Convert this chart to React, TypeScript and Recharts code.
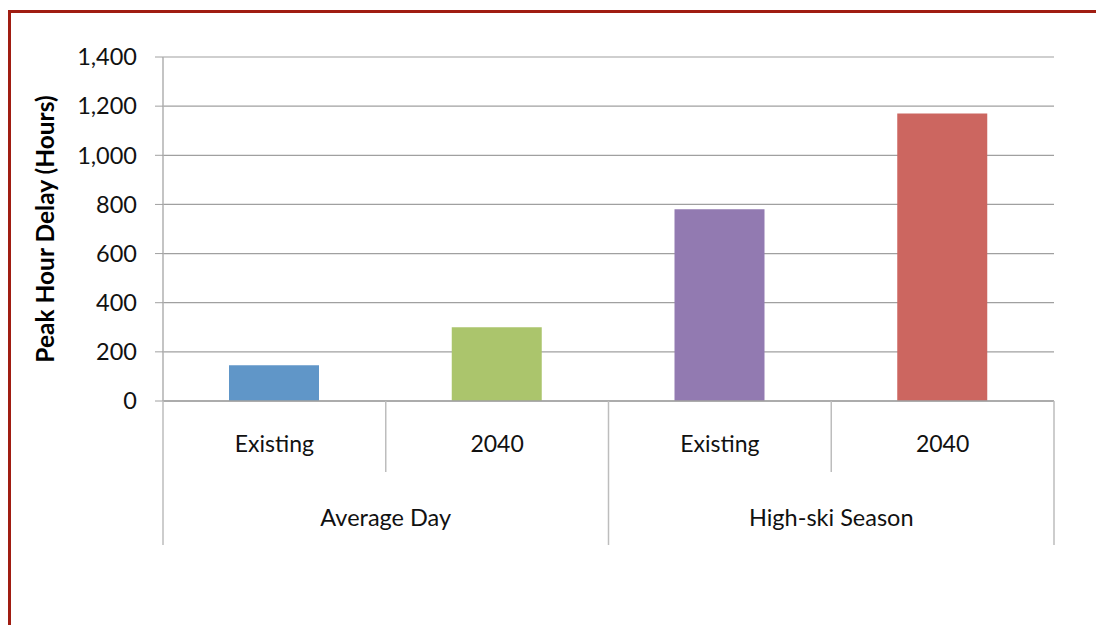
import React from 'react'
import { BarChart, Bar, Cell, XAxis, YAxis, CartesianGrid, Label } from 'recharts'

const ids = ['avg-existing', 'avg-2040', 'ski-existing', 'ski-2040']
const scenarios = ['Existing', '2040', 'Existing', '2040']
const groups = ['Average Day', 'Average Day', 'High-ski Season', 'High-ski Season']
const delays = [145, 300, 780, 1170]
const barColors = ['#6096c8', '#abc56c', '#927ab1', '#cc6660']
const yTicks = [0, 200, 400, 600, 800, 1000, 1200, 1400]

const data = ids.map((id, i) => ({
  id,
  scenario: scenarios[i],
  group: groups[i],
  delay: delays[i],
}))

const FONT = 'Lato, "Open Sans", sans-serif'
const SEP = '#bdbdbd'

function ScenarioTick(props: any) {
  const { x, y, payload, index } = props
  const left = payload.coordinate - payload.offset
  const right = payload.coordinate + payload.offset
  const isGroupStart = index % 2 === 0
  return (
    <g>
      <line x1={left} x2={left} y1={y} y2={isGroupStart ? y + 144 : y + 71} stroke={SEP} strokeWidth={1.5} />
      {index === data.length - 1 && (
        <line x1={right} x2={right} y1={y} y2={y + 144} stroke={SEP} strokeWidth={1.5} />
      )}
      <text x={x} y={y + 51} textAnchor="middle" fontSize={23} fontFamily={FONT} fill="#111">
        {scenarios[index]}
      </text>
    </g>
  )
}

function GroupTick(props: any) {
  const { y, payload, index } = props
  if (index % 2 !== 0) return null
  const mid = payload.coordinate + payload.offset
  return (
    <text x={mid} y={y + 53} textAnchor="middle" fontSize={23.5} fontFamily={FONT} fill="#111">
      {groups[index]}
    </text>
  )
}

export default function App() {
  return (
    <div style={{ position: 'absolute', left: 0, top: 0, width: 1096, height: 625, overflow: 'hidden', background: '#fff' }}>
      <div
        style={{
          position: 'absolute',
          left: 8,
          top: 10,
          width: 1120,
          height: 700,
          border: '3px solid #a01d12',
          boxSizing: 'border-box',
        }}
      />
      <div style={{ position: 'absolute', left: 0, top: 0 }}>
        <BarChart
          width={1096}
          height={625}
          data={data}
          margin={{ top: 57, right: 42, bottom: 80, left: 103 }}
          barSize={90}
        >
          <CartesianGrid horizontal vertical={false} stroke="#a0a0a0" strokeWidth={1.2} />
          <XAxis
            dataKey="id"
            height={72}
            axisLine={{ stroke: '#a0a0a0', strokeWidth: 1.5 }}
            tickLine={false}
            tickSize={0}
            tickMargin={0}
            interval={0}
            tick={<ScenarioTick />}
          />
          <XAxis
            xAxisId="group"
            dataKey="id"
            height={72}
            axisLine={false}
            tickLine={false}
            tickSize={0}
            tickMargin={0}
            interval={0}
            tick={<GroupTick />}
          />
          <YAxis
            width={60}
            domain={[0, 1400]}
            ticks={yTicks}
            interval={0}
            tickFormatter={(v: number) => v.toLocaleString('en-US')}
            axisLine={{ stroke: '#b0b0b0', strokeWidth: 1.5 }}
            tickLine={{ stroke: '#a0a0a0' }}
            tickSize={8}
            tickMargin={18}
            tick={{ fontSize: 23.5, fontFamily: FONT, fill: '#111' }}
          >
            <Label
              value="Peak Hour Delay (Hours)"
              angle={-90}
              position="center"
              dx={-88}
              style={{ fontSize: 24.5, fontWeight: 700, fontFamily: FONT, fill: '#000', textAnchor: 'middle' }}
            />
          </YAxis>
          <Bar dataKey="delay" isAnimationActive={false}>
            {data.map((d, i) => (
              <Cell key={d.id} fill={barColors[i]} />
            ))}
          </Bar>
        </BarChart>
      </div>
    </div>
  )
}
